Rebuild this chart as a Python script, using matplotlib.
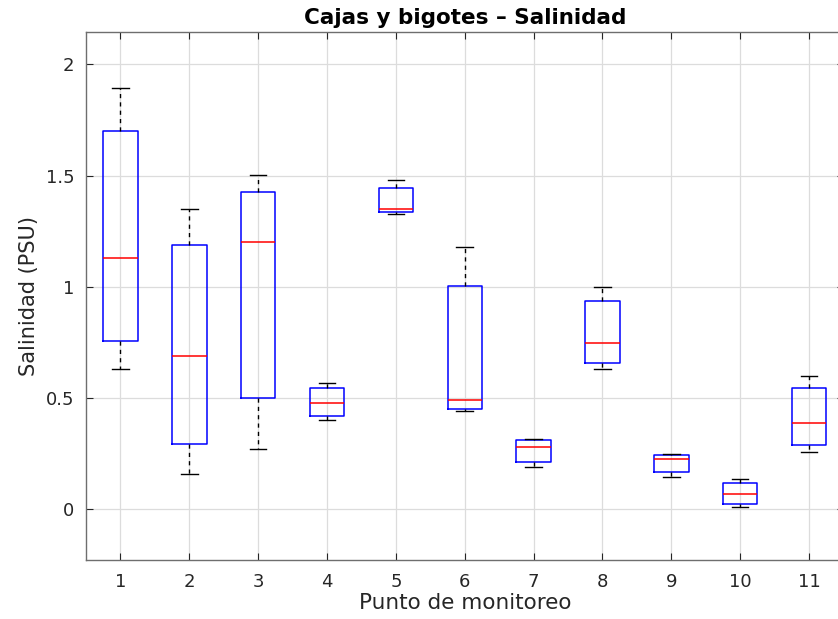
import matplotlib
matplotlib.use("Agg")
import matplotlib.pyplot as plt

plt.rcParams['font.family'] = ['DejaVu Sans']

puntos = [1, 2, 3, 4, 5, 6, 7, 8, 9, 10, 11]
whislo = [0.629, 0.157, 0.270, 0.400, 1.329, 0.440, 0.190, 0.629, 0.147, 0.009, 0.259]
q1     = [0.755, 0.292, 0.499, 0.418, 1.335, 0.452, 0.211, 0.658, 0.168, 0.022, 0.291]
med    = [1.128, 0.688, 1.200, 0.476, 1.348, 0.490, 0.279, 0.749, 0.228, 0.067, 0.388]
q3     = [1.699, 1.187, 1.425, 0.544, 1.446, 1.005, 0.310, 0.935, 0.243, 0.118, 0.545]
whishi = [1.892, 1.348, 1.501, 0.566, 1.479, 1.179, 0.318, 0.999, 0.249, 0.136, 0.598]
yticks = [0, 0.5, 1, 1.5, 2]
yticklabels = ['0', '0.5', '1', '1.5', '2']

stats = []
for i in range(len(puntos)):
    stats.append(dict(whislo=whislo[i], q1=q1[i], med=med[i], q3=q3[i],
                      whishi=whishi[i], fliers=[]))

fig = plt.figure(figsize=(8.38, 6.19), dpi=100)
ax = fig.add_axes([86/838, 1-560/619, (843.5-86)/838, (560-32)/619])

ax.bxp(stats, positions=puntos, widths=0.5, showfliers=False,
       boxprops=dict(color='#0000ff', linewidth=1.1),
       medianprops=dict(color='#ff0000', linewidth=1.1),
       whiskerprops=dict(color='black', linestyle=(0, (3, 3)), linewidth=1.0),
       capprops=dict(color='black', linewidth=1.0), capwidths=0.24)

ax.set_xlim(0.5, 11.5)
ax.set_ylim(-0.228, 2.146)
ax.set_xticks(puntos)
ax.set_xticklabels([str(p) for p in puntos])
ax.set_yticks(yticks)
ax.set_yticklabels(yticklabels)
ax.grid(True, color='#dcdcdc', linewidth=0.9)
ax.set_axisbelow(True)
ax.tick_params(direction='in', top=True, right=True, labelsize=13,
               colors='#262626', length=5)
ax.tick_params(axis='x', pad=9.5)
ax.tick_params(axis='y', pad=8.5)
for s in ax.spines.values():
    s.set_color('#6e6e6e')
    s.set_linewidth(1.0)

ax.set_xlabel('Punto de monitoreo', fontsize=15.5, color='#262626', labelpad=1)
ax.set_ylabel('Salinidad (PSU)', fontsize=15, color='#262626', labelpad=5)
ax.set_title('Cajas y bigotes – Salinidad', fontsize=15.5, fontweight='bold', pad=6)

fig.savefig('out.png', dpi=100)
